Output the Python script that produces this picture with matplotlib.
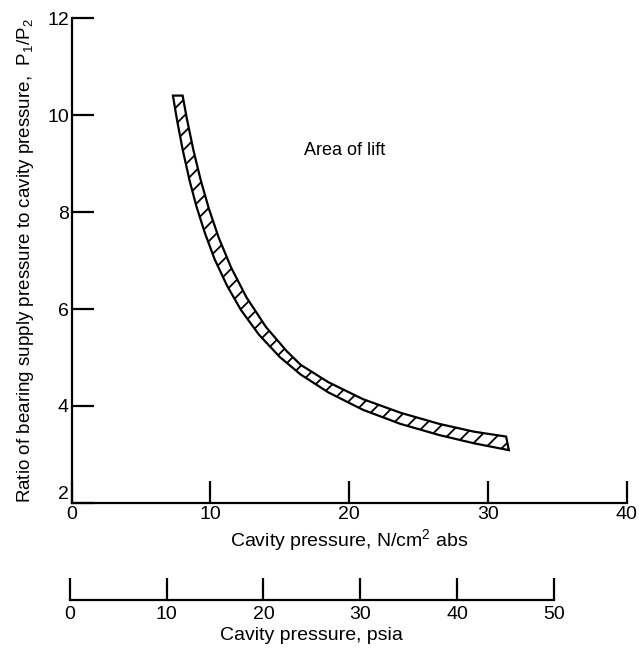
import matplotlib
matplotlib.use('Agg')
import matplotlib.pyplot as plt
from matplotlib.patches import Polygon

plt.rcParams['font.family'] = ['Liberation Sans', 'DejaVu Sans']
plt.rcParams['mathtext.fontset'] = 'custom'
plt.rcParams['mathtext.rm'] = 'Liberation Sans'
plt.rcParams['mathtext.it'] = 'Liberation Sans'
plt.rcParams['hatch.linewidth'] = 1.3

# band edges (N/cm^2 abs, P1/P2)
upper_x = [8.0, 8.3, 8.78, 9.3, 9.9, 10.6, 11.5, 12.6, 14.0, 15.5, 16.5,
           18.5, 21.0, 23.7, 26.5, 29.0, 31.3]
upper_y = [10.4, 9.93, 9.27, 8.66, 8.06, 7.47, 6.85, 6.24, 5.63, 5.13, 4.85,
           4.49, 4.14, 3.86, 3.63, 3.47, 3.37]
lower_x = [7.3, 7.6, 8.0, 8.5, 9.0, 9.6, 10.3, 11.2, 12.2, 13.5, 15.0, 16.5,
           18.5, 21.0, 23.7, 26.5, 29.0, 31.5]
lower_y = [10.4, 9.89, 9.29, 8.65, 8.11, 7.57, 7.03, 6.48, 5.98, 5.47, 5.01,
           4.65, 4.28, 3.92, 3.63, 3.40, 3.23, 3.09]

x_ticks = [0, 10, 20, 30, 40]
y_ticks = [2, 4, 6, 8, 10, 12]
psia_ticks = [0, 10, 20, 30, 40, 50]

fig = plt.figure(figsize=(6.39, 6.57), dpi=100)
ax = fig.add_axes([0.112, 0.2344, 0.869, 0.7382])

pts = list(zip(upper_x, upper_y)) + list(zip(lower_x, lower_y))[::-1]
band = Polygon(pts, closed=True, facecolor='white', edgecolor='black',
               hatch='//', lw=1.6)
ax.add_patch(band)

ax.set_xlim(0, 40)
ax.set_ylim(2, 12)
ax.set_xticks(x_ticks)
ax.set_yticks(y_ticks)
for s in ['top', 'right']:
    ax.spines[s].set_visible(False)
for s in ['left', 'bottom']:
    ax.spines[s].set_linewidth(1.6)
ax.tick_params(direction='in', length=16, width=1.6, labelsize=14, pad=2)
# lift the bottom "2" clear of the x "0"
ax.get_yticklabels()[0].set_va('bottom')
ax.set_xlabel('Cavity pressure, N/cm$^{2}$ abs', fontsize=14, labelpad=3)
ax.set_ylabel('Ratio of bearing supply pressure to cavity pressure,  P$_1$/P$_2$',
              fontsize=13.5, labelpad=8)
ax.text(19.7, 9.27, 'Area of lift', fontsize=13, ha='center', va='center')

# second scale in psia
ax2 = fig.add_axes([0.1095, 0.0868, 0.757, 0.04])
ax2.set_xlim(0, 50)
ax2.set_xticks(psia_ticks)
ax2.set_yticks([])
ax2.patch.set_visible(False)
for s in ['top', 'right', 'left']:
    ax2.spines[s].set_visible(False)
ax2.spines['bottom'].set_linewidth(1.6)
ax2.tick_params(direction='in', length=16, width=1.6, labelsize=14, pad=4)
ax2.set_xlabel('Cavity pressure, psia', fontsize=14, labelpad=3)

fig.savefig('out.png', dpi=100)
